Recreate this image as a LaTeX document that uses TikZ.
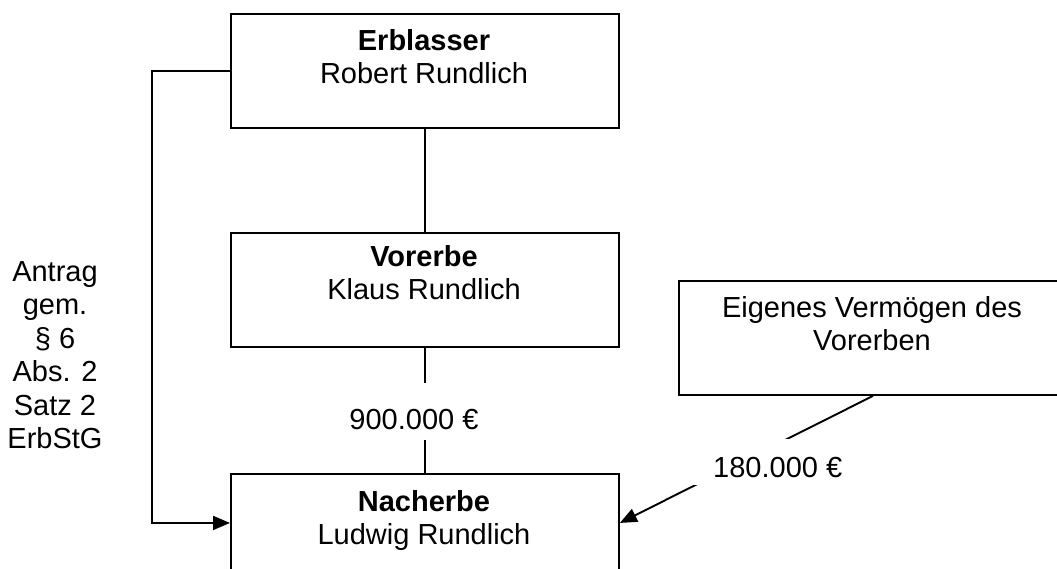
\documentclass[tikz,border=0pt]{standalone}
\usepackage{fontspec}
\setmainfont{Liberation Sans}
\usetikzlibrary{arrows.meta}
\begin{document}
\begin{tikzpicture}[x=1pt,y=-1pt,
  box/.style={draw, line width=1.9pt, minimum width=388pt, minimum height=114pt, inner sep=0pt, anchor=north west},
  txt/.style={align=center, inner sep=0pt, anchor=north, font=\fontsize{29}{33.5}\selectfont},
  conn/.style={line width=1.9pt},
  arr/.style={line width=1.9pt, -{Triangle[length=17pt,width=14pt]}}]
\useasboundingbox (0,0) rectangle (1057,569);
\clip (0,0) rectangle (1057,569);
% boxes
\node[box] (erb) at (230,13) {};
\node[box] (vor) at (230,232) {};
\node[box, minimum height=98pt] (nach) at (230,473) {};
\node[box] (eig) at (678,280) {};
% texts
\node[txt] (erbT) at (424,29) {\textbf{Erblasser}\\Robert Rundlich};
\node[txt] (vorT) at (424,245) {\textbf{Vorerbe}\\Klaus Rundlich};
\node[txt] (nachT) at (424,490) {\textbf{Nacherbe}\\Ludwig Rundlich};
\node[txt] (eigT) at (872,296) {Eigenes Vermögen des\\Vorerben};
\node[txt] (antrag) at (55,261) {Antrag\\gem.\\§ 6\\Abs. 2\\Satz 2\\ErbStG};
% connectors
\draw[conn] (erb.south) -- (vor.north);
\node[font=\fontsize{29}{33.5}\selectfont, inner sep=0pt, text height=46pt, text depth=11pt, anchor=base] (l900) at (414,429) {900.000 €};
\draw[conn] (vor.south) -- (vor.south |- l900.north);
\draw[conn] (nach.north |- l900.south) -- (nach.north);
\coordinate (lc) at (152,0);
\draw[arr] (erb.west) -| (lc |- nach.west) -- (nach.west);
\draw[arr] (eig.south) -- (nach.east);
\node[font=\fontsize{29}{33.5}\selectfont, fill=white, inner xsep=20pt, inner ysep=0pt, text height=38pt, text depth=8pt, anchor=base west] (l180) at (693,477) {180.000 €};
\end{tikzpicture}
\end{document}
